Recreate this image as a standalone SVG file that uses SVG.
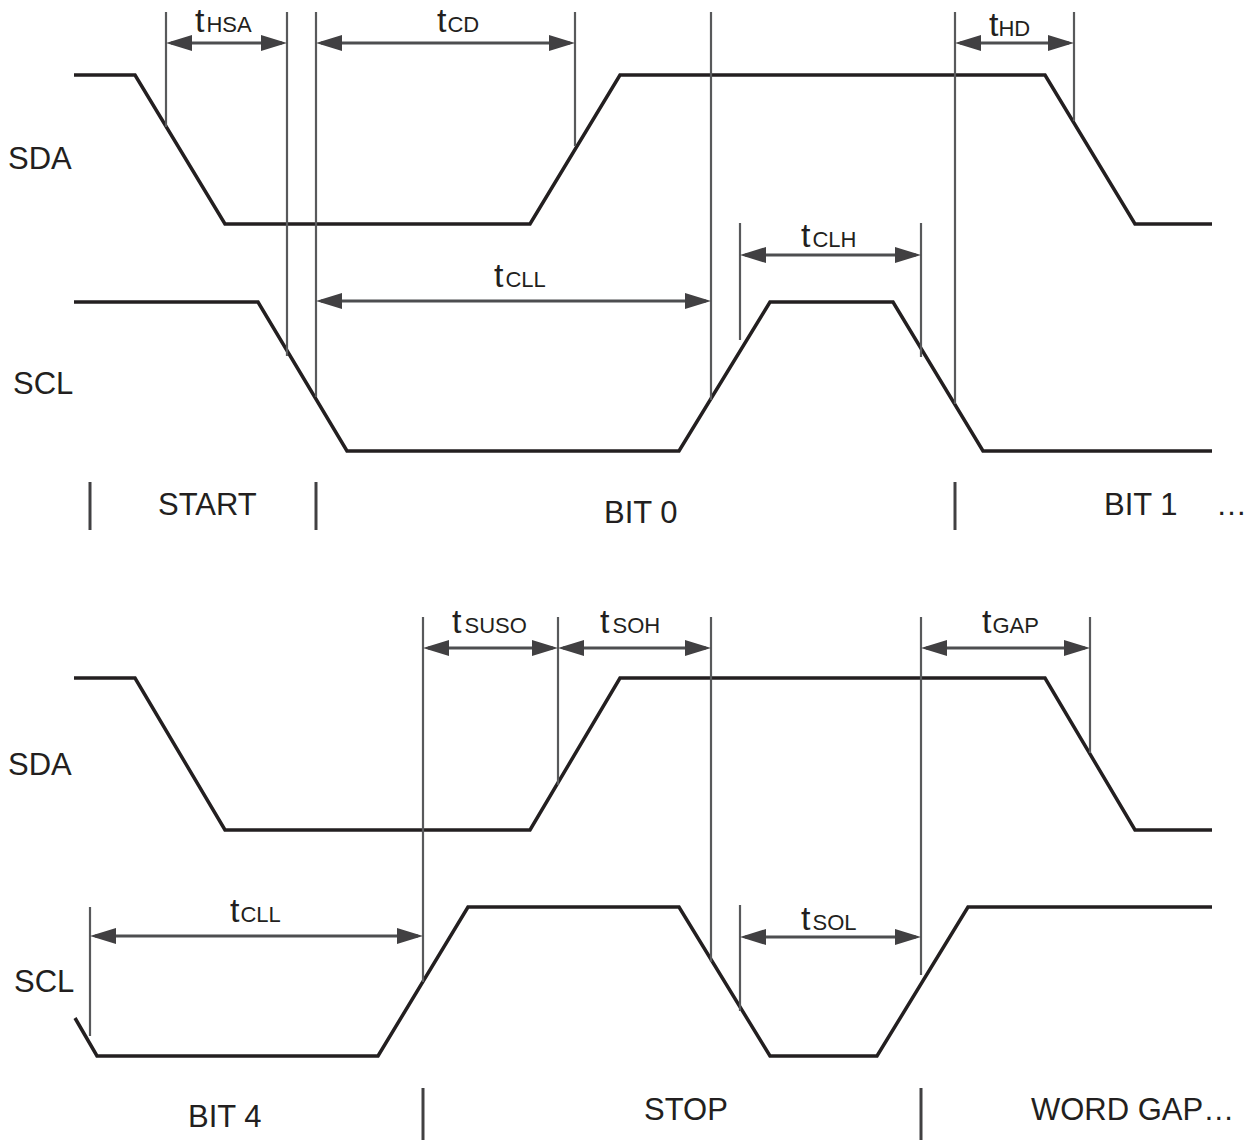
<svg xmlns="http://www.w3.org/2000/svg" width="1256" height="1140" viewBox="0 0 1256 1140">
<style>
.sig{fill:none;stroke:#231f20;stroke-width:3.5;stroke-linejoin:miter}
.tick{stroke:#58595b;stroke-width:2.2}
.arr{stroke:#4d4e50;stroke-width:3;marker-start:url(#ah);marker-end:url(#ah)}
.bar{stroke:#414042;stroke-width:3}
text{font-family:"Liberation Sans",Arial,Helvetica,sans-serif;fill:#231f20}
.lbl{font-size:31px}
.t{font-size:34px}
.sub{font-size:22px}
</style>
<defs>
<marker id="ah" viewBox="0 0 26 16" refX="21" refY="8" markerWidth="26" markerHeight="16" markerUnits="userSpaceOnUse" orient="auto-start-reverse">
<path d="M0,0 L26,8 L0,16 z" fill="#414042"/>
</marker>
</defs>

<g id="signals">
<polyline id="sda1" class="sig" points="74,75 135,75 225,224 530,224 620,75 1045,75 1135,224 1212,224"/>
<polyline id="scl1" class="sig" points="74,302 258,302 347,451 679,451 770,302 893,302 983,451 1212,451"/>
<polyline id="sda2" class="sig" points="74,678 135,678 225,830 530,830 620,678 1045,678 1135,830 1212,830"/>
<polyline id="scl2" class="sig" points="75,1018 97,1056 378,1056 468,907 679,907 770,1056 877,1056 968,907 1212,907"/>
</g>

<g id="connectors">
<line class="tick" x1="166" y1="12" x2="166" y2="127"/>
<line class="tick" x1="287" y1="12" x2="287" y2="356"/>
<line class="tick" x1="316" y1="12" x2="316" y2="397"/>
<line class="tick" x1="575" y1="12" x2="575" y2="146"/>
<line class="tick" x1="711" y1="12" x2="711" y2="400"/>
<line class="tick" x1="740" y1="223" x2="740" y2="340"/>
<line class="tick" x1="921" y1="223" x2="921" y2="357"/>
<line class="tick" x1="955" y1="12" x2="955" y2="404"/>
<line class="tick" x1="1074" y1="12" x2="1074" y2="121"/>

<line class="tick" x1="90" y1="907" x2="90" y2="1036"/>
<line class="tick" x1="423" y1="617" x2="423" y2="982"/>
<line class="tick" x1="558" y1="617" x2="558" y2="785"/>
<line class="tick" x1="711" y1="617" x2="711" y2="962"/>
<line class="tick" x1="740" y1="905" x2="740" y2="1011"/>
<line class="tick" x1="921" y1="617" x2="921" y2="975"/>
<line class="tick" x1="1090" y1="617" x2="1090" y2="753"/>

<line class="arr" x1="171" y1="43" x2="282" y2="43"/>
<line class="arr" x1="321" y1="43" x2="570" y2="43"/>
<line class="arr" x1="960" y1="43" x2="1069" y2="43"/>
<line class="arr" x1="321" y1="301" x2="706" y2="301"/>
<line class="arr" x1="745" y1="255" x2="916" y2="255"/>

<line class="arr" x1="428" y1="648" x2="553" y2="648"/>
<line class="arr" x1="563" y1="648" x2="706" y2="648"/>
<line class="arr" x1="926" y1="648" x2="1085" y2="648"/>
<line class="arr" x1="95" y1="936" x2="418" y2="936"/>
<line class="arr" x1="745" y1="937" x2="916" y2="937"/>

<line class="bar" x1="90" y1="482" x2="90" y2="530"/>
<line class="bar" x1="316" y1="482" x2="316" y2="530"/>
<line class="bar" x1="955" y1="482" x2="955" y2="530"/>
<line class="bar" x1="423" y1="1088" x2="423" y2="1140"/>
<line class="bar" x1="921" y1="1088" x2="921" y2="1140"/>
</g>

<g id="labels">
<text class="lbl" x="8" y="169">SDA</text>
<text class="lbl" x="13" y="394">SCL</text>
<text class="lbl" x="8" y="775">SDA</text>
<text class="lbl" x="14" y="992">SCL</text>
<text class="lbl" x="158" y="515">START</text>
<text class="lbl" x="604" y="523">BIT 0</text>
<text class="lbl" x="1104" y="515">BIT 1</text>
<text class="lbl" x="1216" y="515">…</text>
<text class="lbl" x="188" y="1127">BIT 4</text>
<text class="lbl" x="644" y="1120">STOP</text>
<text class="lbl" x="1031" y="1120">WORD GAP…</text>
</g>

<g id="timing-labels">
<text x="195" y="32"><tspan class="t">t</tspan><tspan class="sub" dx="2">HSA</tspan></text>
<text x="437" y="32"><tspan class="t">t</tspan><tspan class="sub" dx="1">CD</tspan></text>
<text x="989" y="36"><tspan class="t">t</tspan><tspan class="sub" dx="0">HD</tspan></text>
<text x="494" y="287"><tspan class="t">t</tspan><tspan class="sub" dx="2">CLL</tspan></text>
<text x="801" y="247"><tspan class="t">t</tspan><tspan class="sub" dx="2">CLH</tspan></text>
<text x="452" y="633"><tspan class="t">t</tspan><tspan class="sub" dx="3">SUSO</tspan></text>
<text x="600" y="633"><tspan class="t">t</tspan><tspan class="sub" dx="3">SOH</tspan></text>
<text x="982" y="633"><tspan class="t">t</tspan><tspan class="sub" dx="1">GAP</tspan></text>
<text x="230" y="922"><tspan class="t">t</tspan><tspan class="sub" dx="1">CLL</tspan></text>
<text x="801" y="930"><tspan class="t">t</tspan><tspan class="sub" dx="2">SOL</tspan></text>
</g>
</svg>
